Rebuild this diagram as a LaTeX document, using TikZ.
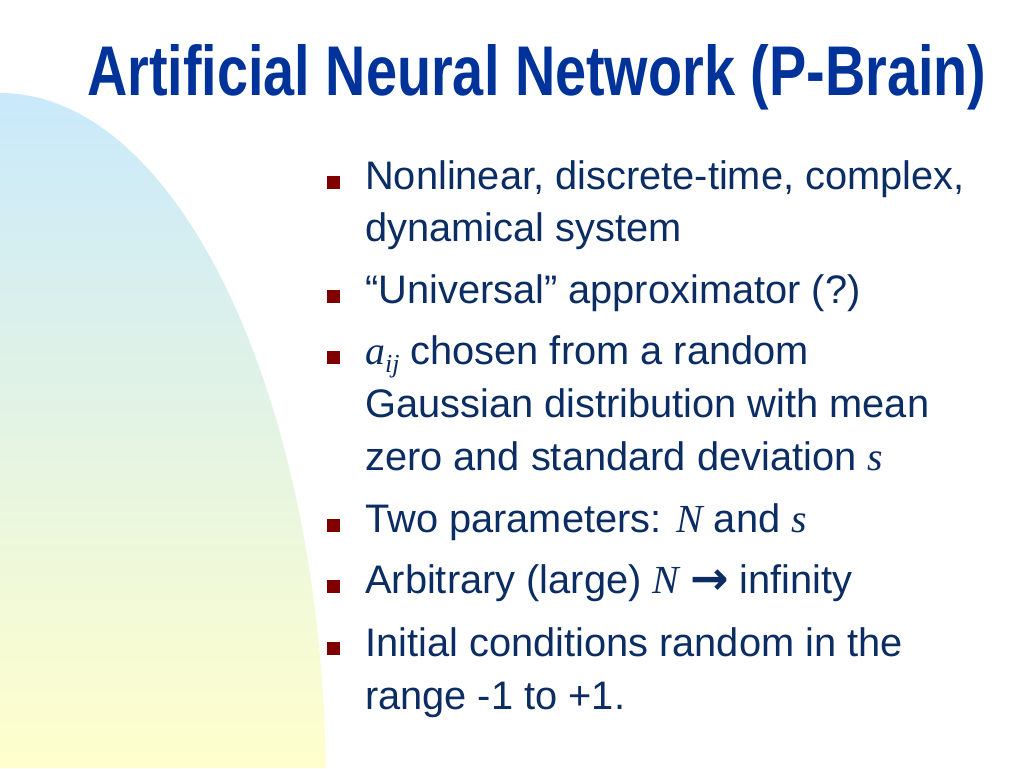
\documentclass[tikz,border=0pt]{standalone}
\usepackage{fontspec}
\setmainfont{Liberation Sans}
\newfontfamily\tms{Liberation Serif}
\newfontfamily\djv{DejaVu Sans}
\definecolor{titleblue}{HTML}{003399}
\definecolor{bodyblue}{HTML}{0B2D63}
\definecolor{bulletred}{HTML}{800000}
\definecolor{shadetop}{HTML}{C9E9FB}
\definecolor{shadebot}{HTML}{FFFFCC}
\tikzset{
  bodyline/.style={anchor=base west, inner sep=0pt, text=bodyblue, font=\fontsize{39.8}{47}\selectfont},
  bulletbox/.style={anchor=south west, inner sep=0pt, minimum width=13pt, minimum height=13pt, fill=bulletred, draw=none},
}
\newcommand{\mi}[1]{{\tms\itshape #1}}
\begin{document}
\begin{tikzpicture}[x=1pt,y=1pt]
\useasboundingbox (0,0) rectangle (1024,768);
\fill[white] (0,0) rectangle (1024,768);
% background quarter ellipse with vertical gradient
\shade[top color=shadetop, bottom color=shadebot, draw=none]
  (0,0) -- (0,675) arc[start angle=90, end angle=1.81, x radius=326, y radius=697] -- cycle;
% title
\node (title) [anchor=base west, inner sep=0pt, text=titleblue] at (87,672)
  {\resizebox{899pt}{51pt}{\bfseries Artificial Neural Network (P-Brain)}};
% bullets
\node (b1) [bulletbox] at (327,579) {};
\node (b2) [bulletbox] at (327,465) {};
\node (b3) [bulletbox] at (327,404) {};
\node (b4) [bulletbox] at (327,236) {};
\node (b5) [bulletbox] at (327,175) {};
\node (b6) [bulletbox] at (327,113) {};
% text lines
\node (l1) [bodyline] at (365,578) {Nonlinear, discrete-time, complex,};
\node (l2) [bodyline] at (365,526) {dynamical system};
\node (l3) [bodyline] at (365,464) {“Universal” approximator (?)};
\node (l4) [bodyline] at (365,403) {\mi{a}\raisebox{-8pt}{\fontsize{26}{26}\selectfont\mi{ij}} chosen from a random};
\node (l5) [bodyline] at (365,350) {Gaussian distribution with mean};
\node (l6) [bodyline] at (365,297) {zero and standard deviation \mi{s}};
\node (l7) [bodyline] at (365,235) {Two parameters: \mi{N} and \mi{s}};
\node (l8) [bodyline] at (365,174) {Arbitrary (large) \mi{N} \raisebox{-1pt}{\djv\bfseries\fontsize{46}{46}\selectfont →} infinity};
\node (l9) [bodyline] at (365,112) {Initial conditions random in the};
\node (l10) [bodyline] at (365,59) {range -1 to +1.};
\end{tikzpicture}
\end{document}
